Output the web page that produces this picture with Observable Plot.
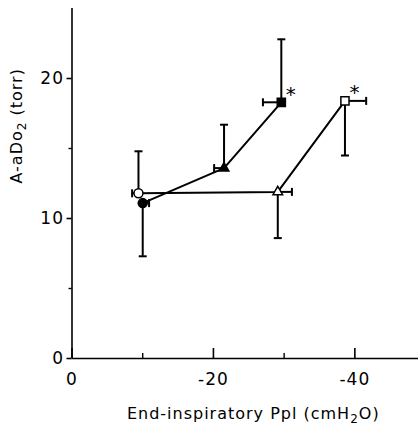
<!DOCTYPE html>
<html><head><meta charset="utf-8">
<script src="https://cdn.jsdelivr.net/npm/d3@7"></script>
<script src="https://cdn.jsdelivr.net/npm/@observablehq/plot@0.6"></script>
<style>
body{margin:0;background:#fff}
svg{display:block}
svg text{letter-spacing:1px}
</style>
</head><body><div id="chart"></div>
<script>
// Data
const series   = ["filled", "filled", "filled", "open", "open", "open"];
const shapes   = ["circle", "triangle", "square", "circle", "triangle", "square"];
const ppl      = [-10.0, -21.5, -29.6, -9.4, -29.1, -38.6];   // end-inspiratory Ppl (cmH2O)
const aado2    = [11.1, 13.6, 18.3, 11.8, 11.9, 18.4];        // A-aDo2 (torr)
const yErrEnd  = [7.3, 16.7, 22.8, 14.8, 8.6, 14.5];          // one-sided SE end (y)
const xErrEnd  = [-10.9, -20.1, -27.0, -8.5, -31.1, -41.6];   // one-sided SE end (x)
const signif   = [false, false, true, false, false, true];
const xMajorTicks = [0, -20, -40];
const xMinorTicks = [-10, -30];
const yMajorTicks = [0, 10, 20];
const yMinorTicks = [5, 15];
const xLabel = "End-inspiratory Ppl (cmH2O)";
const yLabel = "A-aDo2 (torr)";

const data = series.map((s, i) => ({
  series: s, shape: shapes[i], ppl: ppl[i], aado2: aado2[i],
  yErr: yErrEnd[i], xErr: xErrEnd[i], sig: signif[i]
}));

const hcap = {draw(ctx) { ctx.moveTo(-4, 0); ctx.lineTo(4, 0); }};
const vcap = {draw(ctx) { ctx.moveTo(0, -4); ctx.lineTo(0, 4); }};
const radius = {circle: 4.5, square: 4.6, triangle: 3.6};

const chart = Plot.plot({
  width: 418,
  height: 425,
  marginLeft: 71.5,
  marginRight: 0,
  marginTop: 8,
  marginBottom: 67,
  style: {fontFamily: "DejaVu Sans", fontSize: "17px", color: "black", background: "white"},
  x: {domain: [0, -49], axis: null},
  y: {domain: [0, 25], axis: null},
  r: {type: "identity"},
  symbol: {domain: ["circle", "triangle", "square"], range: ["circle", "triangle", "square"]},
  marks: [
    // axes
    Plot.ruleY([0], {stroke: "black", strokeWidth: 1.6}),
    Plot.ruleX([0], {stroke: "black", strokeWidth: 1.6}),
    Plot.axisX(xMajorTicks, {tickSize: 10, dy: -10, fill: "none", stroke: "black", strokeWidth: 1.6, label: null}),
    Plot.axisX(xMinorTicks, {tickSize: 5, dy: -5, fill: "none", stroke: "black", strokeWidth: 1.4, label: null}),
    Plot.axisX(xMajorTicks, {tickSize: 0, tickPadding: 14, tickFormat: d => `${d}`, fill: "black", label: null}),
    Plot.axisY(yMajorTicks, {tickSize: 5, tickPadding: 3, tickFormat: d => `${d}`, stroke: "black", strokeWidth: 1.6, fill: "black", label: null}),
    Plot.axisY(yMinorTicks, {tickSize: 3, fill: "none", stroke: "black", strokeWidth: 1.4, label: null}),
    // axis titles
    Plot.text([xLabel], {text: d => d, frameAnchor: "bottom", dy: 60, dx: 8, fontSize: 16, fill: "black"}),
    Plot.text([yLabel], {text: d => d, frameAnchor: "left", dx: -55, rotate: -90, fontSize: 16, fill: "black"}),
    // connecting lines
    Plot.line(data, {x: "ppl", y: "aado2", z: "series", stroke: "black", strokeWidth: 2}),
    // error bars
    Plot.ruleX(data, {x: "ppl", y1: "aado2", y2: "yErr", stroke: "black", strokeWidth: 2}),
    Plot.dot(data, {x: "ppl", y: "yErr", symbol: hcap, fill: "none", stroke: "black", strokeWidth: 2}),
    Plot.ruleY(data, {y: "aado2", x1: "ppl", x2: "xErr", stroke: "black", strokeWidth: 2}),
    Plot.dot(data, {x: "xErr", y: "aado2", symbol: vcap, fill: "none", stroke: "black", strokeWidth: 2}),
    // markers (open first, then filled)
    Plot.dot(data.filter(d => d.series === "open"), {x: "ppl", y: "aado2", symbol: "shape", r: d => radius[d.shape], fill: "white", stroke: "black", strokeWidth: 1.5}),
    Plot.dot(data.filter(d => d.series === "filled"), {x: "ppl", y: "aado2", symbol: "shape", r: d => radius[d.shape], fill: "black", stroke: "black", strokeWidth: 1.5}),
    // significance asterisks
    Plot.text(data.filter(d => d.sig), {x: "ppl", y: "aado2", text: () => "*", dx: 10, dy: -8, fontSize: 20, fill: "black"})
  ]
});

document.getElementById("chart").appendChild(chart);

// subscripts in axis titles
function withSub(full, before, sub, after) {
  const t = d3.select(chart).selectAll("text").filter(function() { return this.textContent === full; });
  t.text(null);
  t.append("tspan").text(before);
  t.append("tspan").attr("dy", "4").attr("font-size", "12").text(sub);
  t.append("tspan").attr("dy", "-4").text(after);
}
withSub(xLabel, "End-inspiratory Ppl (cmH", "2", "O)");
withSub(yLabel, "A-aDo", "2", " (torr)");
</script>
</body></html>
